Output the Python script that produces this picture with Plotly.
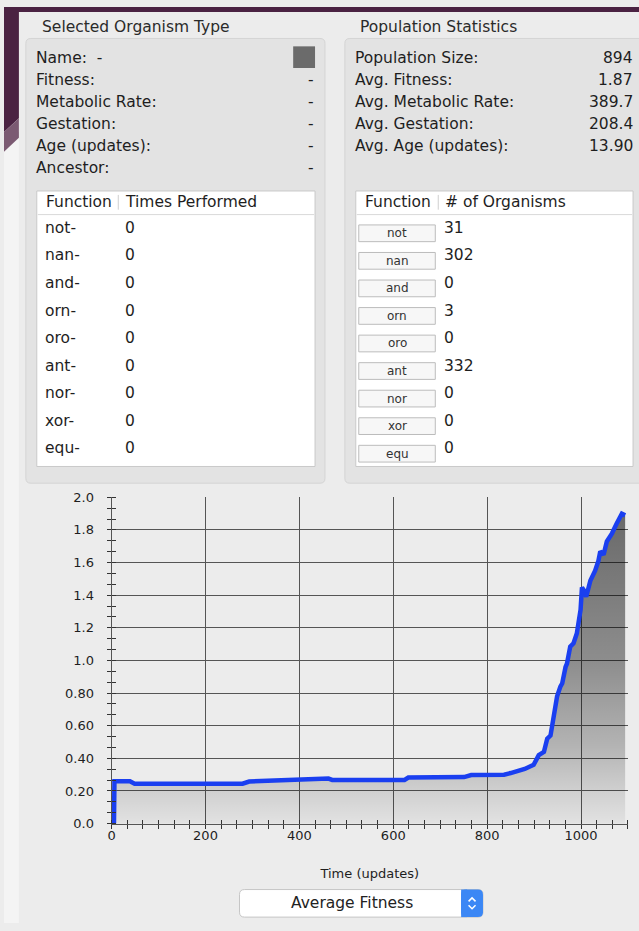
import plotly.graph_objects as go

# ---------------- data ----------------
update_times = [5, 6, 20, 39, 49, 60, 81, 100, 131, 160, 200, 240, 279, 293, 328, 350, 370, 385,
                420, 462, 470, 500, 533, 560, 600, 624, 632, 660, 700, 751, 766, 800, 836, 850,
                864, 880, 899, 910, 921, 928, 935, 942, 949, 956, 960, 967, 970, 977, 984, 991,
                995, 999, 1002, 1006, 1011, 1020, 1030, 1037, 1041, 1048, 1055, 1066, 1076, 1087, 1094]
avg_fitness = [0.0, 0.26, 0.26, 0.26, 0.245, 0.245, 0.24, 0.245, 0.24, 0.245, 0.245, 0.245, 0.245, 0.258, 0.262, 0.258, 0.264, 0.266,
               0.266, 0.276, 0.268, 0.267, 0.267, 0.267, 0.266, 0.268, 0.282, 0.283, 0.284, 0.285, 0.298, 0.300, 0.300, 0.310,
               0.320, 0.335, 0.360, 0.420, 0.440, 0.520, 0.540, 0.660, 0.780, 0.840, 0.860, 0.960, 0.980, 1.085, 1.105, 1.165,
               1.250, 1.310, 1.447, 1.430, 1.390, 1.490, 1.550, 1.610, 1.668, 1.648, 1.729, 1.779, 1.839, 1.899, 1.889]

y_tickvals = [0.0, 0.2, 0.4, 0.6, 0.8, 1.0, 1.2, 1.4, 1.6, 1.8, 2.0]
y_ticktext = ["0.0", "0.20", "0.40", "0.60", "0.80", "1.0", "1.2", "1.4", "1.6", "1.8", "2.0"]
x_tickvals = [0, 200, 400, 600, 800, 1000]

functions = ["not", "nan", "and", "orn", "oro", "ant", "nor", "xor", "equ"]
times_performed = [0, 0, 0, 0, 0, 0, 0, 0, 0]
num_organisms = [31, 302, 0, 3, 0, 332, 0, 0, 0]

organism_labels = ["Name:  -", "Fitness:", "Metabolic Rate:", "Gestation:", "Age (updates):", "Ancestor:"]
organism_values = ["", "-", "-", "-", "-", "-"]
stat_labels = ["Population Size:", "Avg. Fitness:", "Avg. Metabolic Rate:", "Avg. Gestation:", "Avg. Age (updates):"]
stat_values = ["894", "1.87", "389.7", "208.4", "13.90"]

# ---------------- helpers (window pixel -> paper) ----------------
W, H = 639, 931
FONT = "DejaVu Sans"
BODY = 15.5
shapes, annotations = [], []


def px(x):
    return x / W


def py(y):
    return 1 - y / H


def rect(x0, y0, x1, y1, fill, line=None, lw=1):
    shapes.append(dict(type="rect", xref="paper", yref="paper", layer="below",
                       x0=px(x0), x1=px(x1), y0=py(y1), y1=py(y0), fillcolor=fill,
                       line=dict(color=line if line else fill, width=lw if line else 0)))


def path(pts, fill=None, line=None, lw=1, close=True):
    d = "M " + " L ".join(f"{px(a):.5f},{py(b):.5f}" for a, b in pts) + (" Z" if close else "")
    shapes.append(dict(type="path", xref="paper", yref="paper", layer="below", path=d,
                       fillcolor=fill if fill else "rgba(0,0,0,0)",
                       line=dict(color=line if line else "rgba(0,0,0,0)", width=lw if line else 0)))


def rrect(x0, y0, x1, y1, r, fill, line=None, lw=1, open_right=False):
    P = lambda a, b: f"{px(a):.5f},{py(b):.5f}"
    if open_right:
        d = (f"M {P(x1, y0)} L {P(x0 + r, y0)} Q {P(x0, y0)} {P(x0, y0 + r)} "
             f"L {P(x0, y1 - r)} Q {P(x0, y1)} {P(x0 + r, y1)} L {P(x1, y1)}")
    else:
        d = (f"M {P(x0 + r, y0)} L {P(x1 - r, y0)} Q {P(x1, y0)} {P(x1, y0 + r)} "
             f"L {P(x1, y1 - r)} Q {P(x1, y1)} {P(x1 - r, y1)} L {P(x0 + r, y1)} "
             f"Q {P(x0, y1)} {P(x0, y1 - r)} L {P(x0, y0 + r)} Q {P(x0, y0)} {P(x0 + r, y0)} Z")
    shapes.append(dict(type="path", xref="paper", yref="paper", layer="below", path=d,
                       fillcolor=fill, line=dict(color=line if line else fill, width=lw if line else 0)))


def text(x, y, s, size=BODY, anchor="left", color="#1e1e1e"):
    annotations.append(dict(xref="paper", yref="paper", x=px(x), y=py(y), text=s, showarrow=False,
                            xanchor=anchor, yanchor="middle", borderpad=0,
                            font=dict(family=FONT, size=size, color=color)))


# ---------------- background / window ----------------
rect(0, 0, 15, 931, "#f4f4f4")
path([(0, 0), (15, 0), (15, 113), (0, 127)], fill="#4a2242")
path([(0, 127), (15, 113), (15, 133), (0, 147)], fill="#7b5a72")
rect(0, 0, 639, 5, "#4a2242")

# group boxes
text(37, 20, "Selected Organism Type", color="#2a2a2a")
text(357, 20, "Population Statistics", color="#2a2a2a")
rrect(22, 32, 323, 484, 5, "#e3e3e3", "#d4d4d4")
rrect(343, 32, 639, 484, 5, "#e3e3e3", "#d4d4d4", open_right=True)

# selected organism info
ROW0, ROWSTEP = 51.5, 22.4
for i, (lab, val) in enumerate(zip(organism_labels, organism_values)):
    yy = ROW0 + i * ROWSTEP
    text(31, yy, lab)
    if val:
        text(313, yy, val, anchor="right")
rect(291, 40, 313, 62, "#6b6b6b")

# population stats
for i, (lab, val) in enumerate(zip(stat_labels, stat_values)):
    yy = ROW0 + i * ROWSTEP
    text(352, yy, lab)
    text(634, yy, val, anchor="right")

# tables
TROW0, TSTEP = 224.5, 28.0
rect(33, 187, 313, 467, "#ffffff", "#c9c9c9")
rect(354, 187, 633, 467, "#ffffff", "#c9c9c9")
path([(34, 211), (312, 211)], line="#d9d9d9", close=False)
path([(355, 211), (632, 211)], line="#d9d9d9", close=False)
path([(115, 191), (115, 206)], line="#cfcfcf", close=False)
path([(437, 191), (437, 206)], line="#cfcfcf", close=False)
text(41, 198.5, "Function")
text(121, 198.5, "Times Performed")
text(362, 198.5, "Function")
text(443, 198.5, "# of Organisms")

for i, (fn, tp, no) in enumerate(zip(functions, times_performed, num_organisms)):
    yy = TROW0 + i * TSTEP
    text(40, yy, fn + "-")
    text(121, yy, str(tp))
    rect(357, yy - 3, 434, yy + 14, "#f7f7f7", "#bcbcbc")
    text(395.5, yy + 5.5, fn, 12, anchor="center", color="#333333")
    text(442, yy, str(no))

# dropdown under chart
rrect(237, 897, 482, 925, 5, "#ffffff", "#c6c6c6")
rrect(460, 897, 482, 925, 5, "#3b87f5")
rect(460, 897, 466, 925, "#3b87f5")
path([(467.5, 909), (471, 905.5), (474.5, 909)], line="#ffffff", lw=1.5, close=False)
path([(467.5, 913), (471, 916.5), (474.5, 913)], line="#ffffff", lw=1.5, close=False)
text(350, 911, "Average Fitness", anchor="center", color="#222222")

# ---------------- chart ----------------
fig = go.Figure()
fig.add_trace(go.Scatter(
    x=update_times, y=avg_fitness, mode="lines",
    line=dict(color="#1a3ff0", width=4.5),
    fill="tozeroy",
    fillgradient=dict(type="vertical", start=0, stop=2,
                      colorscale=[[0, "rgba(0,0,0,0.03)"], [0.125, "rgba(0,0,0,0.13)"],
                                  [0.25, "rgba(0,0,0,0.24)"], [0.5, "rgba(0,0,0,0.40)"],
                                  [1, "rgba(0,0,0,0.57)"]]),
    hoverinfo="skip", showlegend=False))
# helper subplot used only to draw the inward half of the tick crosses
fig.add_trace(go.Scatter(x=[None], y=[None], xaxis="x2", yaxis="y2", showlegend=False, hoverinfo="skip"))

xdom = [px(108.3), px(627.9)]
ydom = [py(830), py(498.3)]
tickfont = dict(family=FONT, size=13, color="#1e1e1e")

fig.update_layout(
    width=W, height=H, margin=dict(l=0, r=0, t=0, b=0),
    paper_bgcolor="#ececec", plot_bgcolor="#ececec",
    showlegend=False, shapes=shapes, annotations=annotations,
    xaxis=dict(domain=xdom, range=[0, 1100], tickmode="array", tickvals=x_tickvals,
               showgrid=True, gridcolor="#555555", gridwidth=1, zeroline=False,
               showline=True, linecolor="#555555", linewidth=1,
               ticks="outside", ticklen=4, tickcolor="#333333", ticklabelstandoff=-4,
               minor=dict(dtick=200 / 6, tick0=0, ticks="outside", ticklen=4, tickcolor="#333333", showgrid=False),
               tickfont=tickfont, fixedrange=True,
               title=dict(text="Time (updates)", font=dict(family=FONT, size=13, color="#1e1e1e"), standoff=26)),
    yaxis=dict(domain=ydom, range=[0, 2.0], tickmode="array", tickvals=y_tickvals, ticktext=y_ticktext,
               showgrid=True, gridcolor="#555555", gridwidth=1, zeroline=False,
               showline=True, linecolor="#555555", linewidth=1,
               ticks="outside", ticklen=4, tickcolor="#333333", ticklabelstandoff=10,
               minor=dict(dtick=0.2 / 3, tick0=0, ticks="outside", ticklen=4, tickcolor="#333333", showgrid=False),
               tickfont=tickfont, fixedrange=True),
    xaxis2=dict(overlaying="x", anchor="y2", range=[0, 1100], showgrid=False, zeroline=False,
                showticklabels=False, ticks="", tickvals=[],
                minor=dict(dtick=200 / 6, tick0=0, ticks="inside", ticklen=4, tickcolor="#333333", showgrid=False)),
    yaxis2=dict(overlaying="y", anchor="x2", range=[0, 2.0], showgrid=False, zeroline=False,
                showticklabels=False, ticks="", tickvals=[],
                minor=dict(dtick=0.2 / 3, tick0=0, ticks="inside", ticklen=4, tickcolor="#333333", showgrid=False)),
)

# remove the page's default 8px body margin so the 639x931 figure fills the window exactly
fig.write_html("out.html", config={"displayModeBar": False},
               post_script="document.body.style.margin='0px';document.documentElement.style.overflow='hidden';")
